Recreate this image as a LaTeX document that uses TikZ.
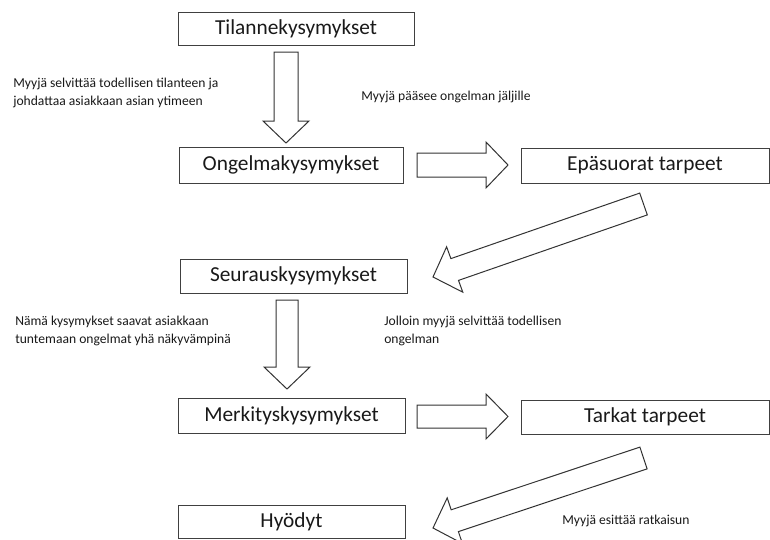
\documentclass[tikz,border=0pt]{standalone}
\usepackage{fontspec}
\setmainfont{Carlito}
\begin{document}
\begin{tikzpicture}[x=0.75pt,y=-0.75pt,
  box/.style={draw=black!75, line width=0.75pt, inner sep=0pt, font=\fontsize{16}{19}\selectfont, text=black!90},
  barrow/.style={draw=black!80, line width=0.75pt, fill=white, line join=miter},
  lbl/.style={font=\fontsize{10.2}{13.4}\selectfont, align=left, inner sep=0pt, anchor=west, text=black!90}]
\useasboundingbox (0,0) rectangle (770,539);
% boxes
\node[box, minimum width={236*0.75pt}, minimum height={33*0.75pt}] (b1) at (296,28.5) {Tilannekysymykset};
\node[box, minimum width={224*0.75pt}, minimum height={36*0.75pt}] (b2) at (291,165) {Ongelmakysymykset};
\node[box, minimum width={248*0.75pt}, minimum height={35*0.75pt}] (b3) at (645,165.5) {Epäsuorat tarpeet};
\node[box, minimum width={227*0.75pt}, minimum height={34*0.75pt}] (b4) at (293.5,276) {Seurauskysymykset};
\node[box, minimum width={227*0.75pt}, minimum height={35*0.75pt}] (b5) at (291.5,415.5) {Merkityskysymykset};
\node[box, minimum width={248*0.75pt}, minimum height={34*0.75pt}] (b6) at (645,417) {Tarkat tarpeet};
\node[box, minimum width={227*0.75pt}, minimum height={33*0.75pt}] (b7) at (291.5,521.5) {Hyödyt};
% block arrows
\draw[barrow] (274,52) -- (298,52) -- (298,121) -- (309,121) -- (286,143) -- (263,121) -- (274,121) -- cycle;
\draw[barrow] (276,300) -- (298,300) -- (298,367) -- (310,367) -- (287,389) -- (264,367) -- (276,367) -- cycle;
\draw[barrow] (417,153) -- (486,153) -- (486,142) -- (508,165) -- (486,188) -- (486,177) -- (417,177) -- cycle;
\draw[barrow] (417,405) -- (486,405) -- (486,394) -- (508,416.5) -- (486,439) -- (486,428) -- (417,428) -- cycle;
\draw[barrow] (639.7,193.1) -- (647.3,214.9) -- (458.5,280.4) -- (462.8,292.2) -- (433,277) -- (446.6,246.8) -- (450.9,258.6) -- cycle;
\draw[barrow] (639.9,447.1) -- (647.1,468.9) -- (458.4,531.6) -- (462.4,543.5) -- (433,528) -- (447.2,497.9) -- (451.2,509.8) -- cycle;
% labels
\node[lbl] (t1) at (13,93) {Myyjä selvittää todellisen tilanteen ja\\johdattaa asiakkaan asian ytimeen};
\node[lbl] (t2) at (361,97) {Myyjä pääsee ongelman jäljille};
\node[lbl] (t3) at (15,331) {Nämä kysymykset saavat asiakkaan\\tuntemaan ongelmat yhä näkyvämpinä};
\node[lbl] (t4) at (384,331) {Jolloin myyjä selvittää todellisen\\ongelman};
\node[lbl] (t5) at (562,521) {Myyjä esittää ratkaisun};
\end{tikzpicture}
\end{document}
